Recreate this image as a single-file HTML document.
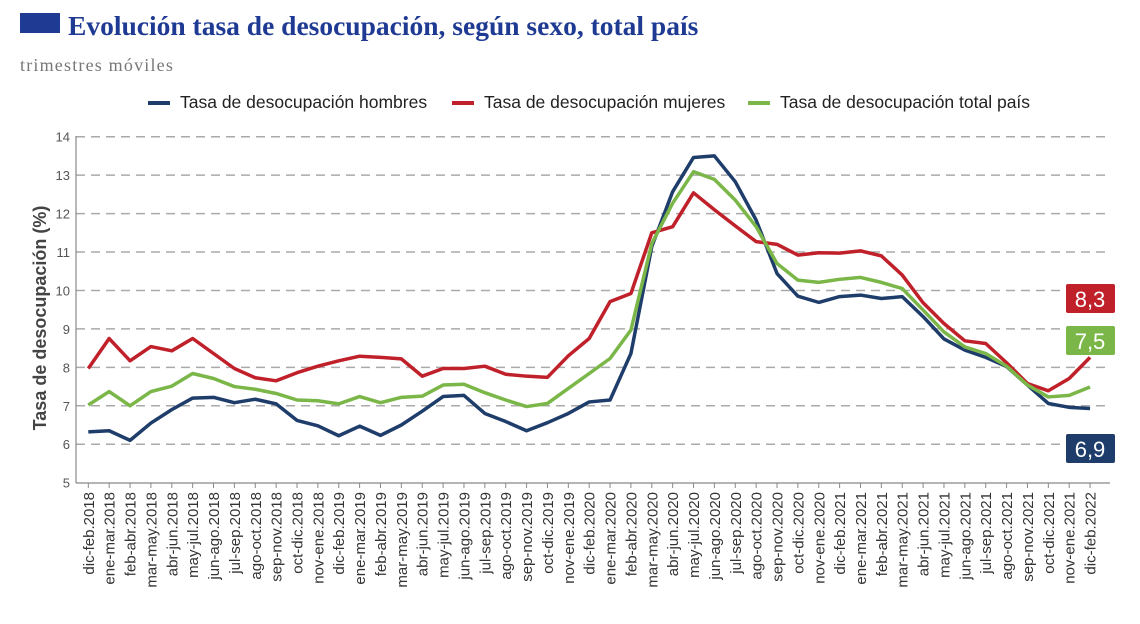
<!DOCTYPE html>
<html><head><meta charset="utf-8"><style>
body{margin:0;background:#fff;width:1140px;height:619px;overflow:hidden}
</style></head><body>
<svg width="1140" height="619" xmlns="http://www.w3.org/2000/svg" font-family="Liberation Sans, sans-serif">
<rect x="20" y="13" width="40" height="20" fill="#1f3a93"/>
<text x="68" y="35" font-family="Liberation Serif, serif" font-weight="bold" font-size="27.5" fill="#1f3a93">Evolución tasa de desocupación, según sexo, total país</text>
<text x="20" y="71" font-family="Liberation Serif, serif" font-size="18" letter-spacing="1.2" fill="#777">trimestres móviles</text>
<g font-size="17.5" fill="#222">
<line x1="148" y1="103" x2="170" y2="103" stroke="#1f3d6b" stroke-width="4"/><text x="180" y="108">Tasa de desocupación hombres</text>
<line x1="452" y1="103" x2="474" y2="103" stroke="#c0202a" stroke-width="4"/><text x="484" y="108">Tasa de desocupación mujeres</text>
<line x1="748" y1="103" x2="770" y2="103" stroke="#7ab648" stroke-width="4"/><text x="780" y="108">Tasa de desocupación total país</text>
</g>
<text transform="translate(46,318) rotate(-90)" text-anchor="middle" font-size="18" font-weight="bold" fill="#444">Tasa de desocupación (%)</text>
<g id="grid"></g>
<g id="rest"></g>
<rect x="1066" y="284" width="49" height="29" rx="2" fill="#c0202a"/><text x="1090" y="307" text-anchor="middle" font-size="22" fill="#fff">8,3</text>
<rect x="1066" y="326" width="49" height="29" rx="2" fill="#7ab648"/><text x="1090" y="349" text-anchor="middle" font-size="22" fill="#fff">7,5</text>
<rect x="1066" y="434" width="49" height="29" rx="2" fill="#1f3d6b"/><text x="1090" y="457" text-anchor="middle" font-size="22" fill="#fff">6,9</text>
</svg>
<script>
var NS="http://www.w3.org/2000/svg",svg=document.querySelector('svg'),g=document.getElementById('grid');
function Y(v){return 136.7+(14-v)*38.44}
function X(i){return 88.3+i*20.87}
function el(t,a,p,txt){var e=document.createElementNS(NS,t);for(var k in a)e.setAttribute(k,a[k]);if(txt)e.textContent=txt;(p||g).appendChild(e);return e}
for(var v=5;v<=14;v++){
 if(v>5)el('line',{x1:76,x2:1110,y1:Y(v),y2:Y(v),stroke:'#aaa','stroke-width':1.5,'stroke-dasharray':'9,6'});
 el('text',{x:70,y:Y(v)+5,'text-anchor':'end','font-size':13,fill:'#555'},null,String(v));
}
el('line',{x1:76,x2:76,y1:136,y2:483,stroke:'#888','stroke-width':1.2});
el('line',{x1:76,x2:1110,y1:483,y2:483,stroke:'#888','stroke-width':1.2});
var L=["dic-feb.2018","ene-mar.2018","feb-abr.2018","mar-may.2018","abr-jun.2018","may-jul.2018","jun-ago.2018","jul-sep.2018","ago-oct.2018","sep-nov.2018","oct-dic.2018","nov-ene.2018","dic-feb.2019","ene-mar.2019","feb-abr.2019","mar-may.2019","abr-jun.2019","may-jul.2019","jun-ago.2019","jul-sep.2019","ago-oct.2019","sep-nov.2019","oct-dic.2019","nov-ene.2019","dic-feb.2020","ene-mar.2020","feb-abr.2020","mar-may.2020","abr-jun.2020","may-jul.2020","jun-ago.2020","jul-sep.2020","ago-oct.2020","sep-nov.2020","oct-dic.2020","nov-ene.2020","dic-feb.2021","ene-mar.2021","feb-abr.2021","mar-may.2021","abr-jun.2021","may-jul.2021","jun-ago.2021","jul-sep.2021","ago-oct.2021","sep-nov.2021","oct-dic.2021","nov-ene.2021","dic-feb.2022"];
L.forEach(function(s,i){var x=X(i);
 el('line',{x1:x,x2:x,y1:483,y2:488,stroke:'#888'});
 el('text',{transform:'translate('+(x+5.5)+',492) rotate(-90)','text-anchor':'end','font-size':15,fill:'#333'},null,s);});
var B=[6.32,6.35,6.1,6.55,6.9,7.2,7.22,7.08,7.17,7.05,6.62,6.48,6.22,6.47,6.23,6.5,6.86,7.24,7.27,6.8,6.59,6.35,6.56,6.8,7.1,7.15,8.36,11.14,12.57,13.46,13.5,12.83,11.83,10.44,9.85,9.69,9.84,9.88,9.79,9.84,9.32,8.74,8.45,8.26,8.02,7.54,7.06,6.96,6.93];
var R=[7.97,8.75,8.17,8.54,8.43,8.75,8.36,7.97,7.73,7.65,7.86,8.03,8.17,8.29,8.26,8.22,7.77,7.97,7.97,8.03,7.82,7.77,7.74,8.3,8.75,9.71,9.92,11.5,11.66,12.54,12.1,11.68,11.27,11.2,10.92,10.98,10.97,11.03,10.9,10.4,9.68,9.14,8.69,8.62,8.12,7.58,7.39,7.71,8.26];
var G=[7.02,7.37,7.0,7.37,7.51,7.84,7.71,7.5,7.43,7.32,7.15,7.13,7.05,7.24,7.08,7.22,7.25,7.54,7.56,7.34,7.15,6.98,7.06,7.45,7.84,8.23,8.97,11.22,12.27,13.09,12.89,12.35,11.66,10.7,10.27,10.21,10.29,10.34,10.21,10.05,9.49,8.92,8.53,8.36,8.03,7.54,7.23,7.27,7.49];
[[B,'#1f3d6b'],[R,'#c0202a'],[G,'#7ab648']].forEach(function(s){
 el('polyline',{points:s[0].map(function(v,i){return X(i)+','+Y(v)}).join(' '),fill:'none',stroke:s[1],'stroke-width':3.5,'stroke-linejoin':'round'},document.getElementById('rest'));});
</script>
</body></html>
